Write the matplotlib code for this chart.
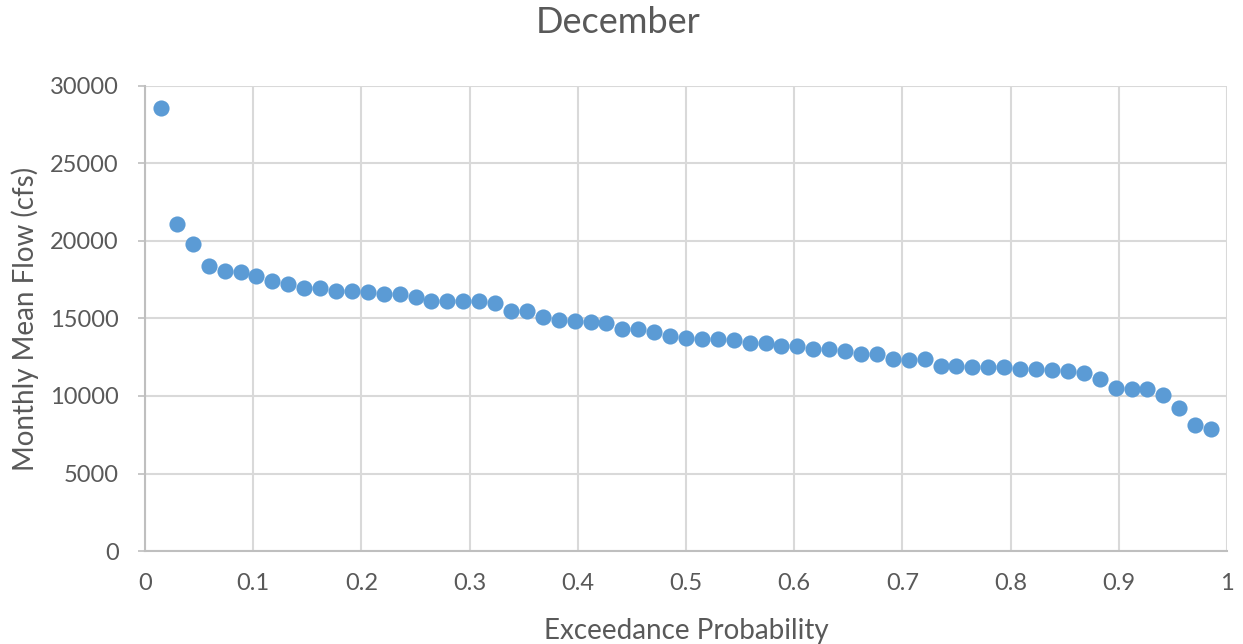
import numpy as np
import matplotlib.pyplot as plt

plt.rcParams['font.family'] = ['Lato', 'DejaVu Sans']

n_years = 67
rank = np.arange(1, n_years + 1)
exceedance = rank / (n_years + 1)

flow_cfs = [
    28550, 21100, 19780, 18380, 18080, 17990, 17710, 17450, 17240, 16960,
    16960, 16790, 16790, 16680, 16600, 16590, 16390, 16120, 16120, 16120,
    16110, 16030, 15460, 15460, 15090, 14880, 14870, 14790, 14700, 14340,
    14340, 14150, 13890, 13760, 13670, 13670, 13590, 13390, 13390, 13200,
    13200, 13030, 13030, 12900, 12680, 12700, 12390, 12320, 12370, 11950,
    11950, 11850, 11850, 11850, 11760, 11760, 11680, 11600, 11460, 11070,
    10520, 10480, 10480, 10090, 9230, 8110, 7850,
]

title = "December"
xlabel = "Exceedance Probability"
ylabel = "Monthly Mean Flow (cfs)"
xticks = np.arange(0, 1.01, 0.1)
yticks = np.arange(0, 30001, 5000)

text_col = "#595959"
grid_col = "#D9D9D9"

fig = plt.figure(figsize=(12.43, 6.44), dpi=100)
ax = fig.add_axes([0.1167, 0.1444, 0.8704, 0.7221])

ax.scatter(exceedance, flow_cfs, s=135, color="#5B9BD5", zorder=3, linewidths=0)

ax.set_xlim(0, 1)
ax.set_ylim(0, 30000)
ax.set_xticks(xticks)
ax.set_xticklabels(["0" if t == 0 else ("1" if t == 1 else "%.1f" % t) for t in xticks])
ax.set_yticks(yticks)
ax.set_yticklabels([str(int(t)) for t in yticks])
ax.grid(color=grid_col, linewidth=1.5, zorder=0)

for side in ["top", "right"]:
    ax.spines[side].set_visible(False)
for side in ["left", "bottom"]:
    ax.spines[side].set_color("#BFBFBF")
    ax.spines[side].set_linewidth(1.5)

ax.tick_params(axis="y", colors=text_col, labelsize=17, length=5, width=1.2,
               color="#BFBFBF", pad=14)
ax.tick_params(axis="x", colors=text_col, labelsize=17, length=0, pad=16)

fig.suptitle(title, x=0.497, y=0.99, va="top", fontsize=26, color=text_col)
ax.set_xlabel(xlabel, fontsize=20, color=text_col, labelpad=17)
ax.set_ylabel(ylabel, fontsize=20, color=text_col, labelpad=8)

fig.savefig("out.png", dpi=100)
